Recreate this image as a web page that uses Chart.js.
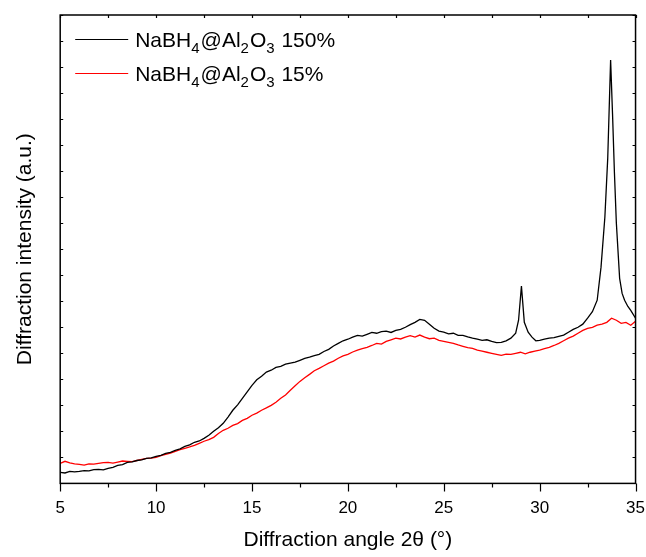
<!DOCTYPE html>
<html>
<head>
<meta charset="utf-8">
<script src="https://cdn.jsdelivr.net/npm/chart.js@4/dist/chart.umd.min.js"></script>
<style>
  html, body { margin: 0; padding: 0; background: #fff; }
  #wrap { width: 646px; height: 557px; }
</style>
</head>
<body>
<div id="wrap"><canvas id="xrd" width="646" height="557"></canvas></div>
<script>
// 2-theta positions and intensities (a.u.)
const angles150 = [5.00,5.25,5.50,5.75,6.00,6.25,6.50,6.75,7.00,7.25,7.50,7.75,8.00,8.25,8.50,8.75,9.00,9.25,9.50,9.75,
  10.00,10.25,10.50,10.75,11.00,11.25,11.50,11.75,12.00,12.25,12.50,12.75,13.00,13.25,13.50,13.75,14.00,14.25,14.50,14.75,
  15.00,15.25,15.50,15.75,16.00,16.25,16.50,16.75,17.00,17.25,17.50,17.75,18.00,18.25,18.50,18.75,19.00,19.25,19.50,19.75,
  20.00,20.25,20.50,20.75,21.00,21.25,21.50,21.75,22.00,22.25,22.50,22.75,23.00,23.25,23.50,23.75,24.00,24.25,24.50,24.75,
  25.00,25.25,25.50,25.75,26.00,26.25,26.50,26.75,27.00,27.25,27.50,27.75,28.00,28.25,28.50,28.75,28.90,29.05,29.20,29.40,
  29.60,29.80,30.00,30.25,30.50,30.75,31.00,31.25,31.50,31.75,32.00,32.25,32.50,32.75,33.00,33.20,33.40,33.55,33.70,33.80,
  33.90,34.00,34.17,34.30,34.43,34.60,34.75,35.00];
const intensity150 = [42,40,46,44,46,49,48,53,54,52,58,62,69,72,81,83,88,90,96,98,
  104,108,115,119,127,133,142,148,158,163,173,185,200,214,231,255,281,302,327,352,
  377,398,412,428,435,446,450,458,462,466,473,480,485,491,496,507,515,528,538,548,
  554,562,569,566,573,580,577,583,585,580,588,592,600,610,619,630,627,612,596,585,
  581,575,577,569,569,563,558,554,550,552,546,541,542,548,558,577,627,758,619,581,
  562,548,550,554,558,560,565,570,581,592,600,612,635,660,704,831,1023,1250,1627,1420,
  1192,1000,788,730,704,680,665,635];

const angles15 = [5.00,5.25,5.50,5.75,6.00,6.25,6.50,6.75,7.00,7.25,7.50,7.75,8.00,8.25,8.50,8.75,9.00,9.25,9.50,9.75,
  10.00,10.25,10.50,10.75,11.00,11.25,11.50,11.75,12.00,12.25,12.50,12.75,13.00,13.25,13.50,13.75,14.00,14.25,14.50,14.75,
  15.00,15.25,15.50,15.75,16.00,16.25,16.50,16.75,17.00,17.25,17.50,17.75,18.00,18.25,18.50,18.75,19.00,19.25,19.50,19.75,
  20.00,20.25,20.50,20.75,21.00,21.25,21.50,21.75,22.00,22.25,22.50,22.75,23.00,23.25,23.50,23.75,24.00,24.25,24.50,24.75,
  25.00,25.25,25.50,25.75,26.00,26.25,26.50,26.75,27.00,27.25,27.50,27.75,28.00,28.25,28.50,28.75,29.00,29.25,29.50,29.75,
  30.00,30.25,30.50,30.75,31.00,31.25,31.50,31.75,32.00,32.25,32.50,32.75,33.00,33.25,33.50,33.75,34.00,34.25,34.50,34.75,35.00];
const intensity15 = [77,85,79,75,73,70,75,74,77,80,81,78,82,86,85,84,88,92,96,97,
  100,107,112,116,123,130,135,140,146,154,162,168,177,192,204,212,223,230,242,250,
  262,270,281,290,300,312,327,340,358,375,392,406,419,433,442,452,462,470,481,490,
  496,505,512,518,523,530,538,535,546,552,558,555,562,568,562,570,562,556,558,550,
  546,542,538,532,527,522,519,512,508,504,500,496,492,497,496,500,504,498,504,508,
  512,518,523,530,538,548,558,566,577,588,596,600,608,612,619,635,627,615,619,608,623];

const xTicks = [5, 10, 15, 20, 25, 30, 35];
const seriesNames = ['150%', '15%'];
const seriesColors = ['#000000', '#ff0000'];

function pts(xs, ys){ return xs.map((x,i)=>({x, y: ys[i]})); }

const FONT = "'Liberation Sans', Arial, sans-serif";

// frame + ticks on all four sides, done through the scales
const frameTicks = {
  id: 'frameTicks',
  afterDraw(chart){
    const {ctx, chartArea: a, scales: {x, y}} = chart;
    ctx.save();
    ctx.strokeStyle = '#000';
    ctx.lineWidth = 1.2;
    ctx.beginPath();
    for(let v = 5; v <= 35.001; v += 2.5){
      const px = Math.round(x.getPixelForValue(v)) + 0.5;
      const major = Math.abs(v % 5) < 0.01;
      ctx.moveTo(px, a.bottom); ctx.lineTo(px, a.bottom + (major ? 8 : 4));
      ctx.moveTo(px, a.top); ctx.lineTo(px, a.top + 3);
    }
    for(let v = 0; v <= 1800; v += 100){
      const py = Math.round(y.getPixelForValue(v)) + 0.5;
      ctx.moveTo(a.left, py); ctx.lineTo(a.left + 3, py);
      ctx.moveTo(a.right, py); ctx.lineTo(a.right - 3, py);
    }
    ctx.stroke();
    ctx.lineWidth = 1.5;
    ctx.strokeRect(a.left, a.top, a.right - a.left, a.bottom - a.top);
    ctx.restore();
  }
};

// legend with sub-scripted formula
const formulaLegend = {
  id: 'formulaLegend',
  afterDraw(chart){
    const {ctx, chartArea: a} = chart;
    ctx.save();
    seriesNames.forEach((name, i)=>{
      const ly = a.top + 24 + i * 34;
      ctx.strokeStyle = seriesColors[i];
      ctx.lineWidth = 1.2;
      ctx.beginPath(); ctx.moveTo(a.left + 15, ly + 0.5); ctx.lineTo(a.left + 68, ly + 0.5); ctx.stroke();
      const parts = [['NaBH',0],['4',1],['@Al',0],['2',1],['O',0],['3',1],[' ' + name,0]];
      let tx = a.left + 75;
      const base = ly + 8;
      ctx.fillStyle = '#000';
      ctx.textBaseline = 'alphabetic';
      parts.forEach(([t, sub])=>{
        ctx.font = (sub ? '15px ' : '21px ') + FONT;
        ctx.fillText(t, tx, sub ? base + 6 : base);
        tx += ctx.measureText(t).width + (sub ? 1 : 0);
      });
    });
    ctx.restore();
  }
};

new Chart(document.getElementById('xrd'), {
  type: 'line',
  data: {
    datasets: [
      { label: 'NaBH4@Al2O3 150%', data: pts(angles150, intensity150), borderColor: seriesColors[0], borderWidth: 1.3, pointRadius: 0, tension: 0 },
      { label: 'NaBH4@Al2O3 15%', data: pts(angles15, intensity15), borderColor: seriesColors[1], borderWidth: 1.3, pointRadius: 0, tension: 0 }
    ]
  },
  options: {
    responsive: false,
    animation: false,
    layout: { padding: { left: 9, right: 0, top: 15, bottom: 4 } },
    plugins: { legend: { display: false }, tooltip: { enabled: false } },
    scales: {
      x: {
        type: 'linear', min: 5, max: 35,
        afterBuildTicks(s){ s.ticks = xTicks.map(v=>({value: v})); },
        grid: { display: false, tickLength: 14 }, border: { display: false },
        ticks: { color: '#000', font: { family: FONT, size: 17 }, padding: 1, maxRotation: 0 },
        title: { display: true, text: 'Diffraction angle 2θ (°)', color: '#000', font: { family: FONT, size: 21 }, padding: { top: 8, bottom: 0 } }
      },
      y: {
        min: 0, max: 1800,
        grid: { display: false, tickLength: 8 }, border: { display: false },
        ticks: { display: false },
        title: { display: true, text: 'Diffraction intensity (a.u.)', color: '#000', font: { family: FONT, size: 21 }, padding: { top: 4, bottom: 14 } }
      }
    }
  },
  plugins: [frameTicks, formulaLegend]
});
</script>
</body>
</html>
